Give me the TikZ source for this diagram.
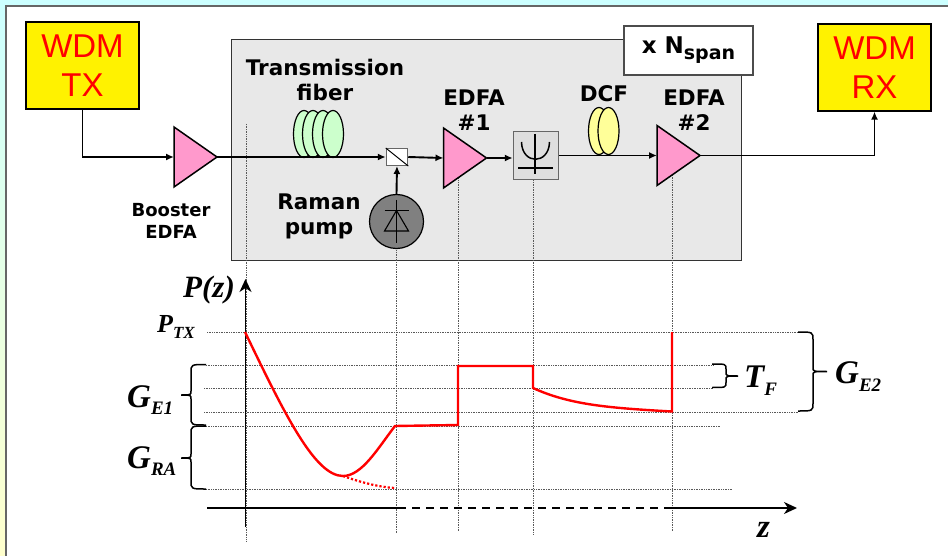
\documentclass[tikz,border=0pt]{standalone}
\usepackage{fontspec}
\setmainfont{Liberation Sans}
\newfontfamily\labelfont{DejaVu Sans}
\newfontfamily\plotfont{Liberation Serif}
\usetikzlibrary{arrows.meta,shapes.geometric}

\definecolor{bgcyan}{HTML}{CCFFFF}
\definecolor{bgyellow}{HTML}{FFFFCC}
\definecolor{edfapink}{HTML}{FF99CC}
\definecolor{fibergreen}{HTML}{CCFFCC}
\definecolor{dcfyellow}{HTML}{FFFF99}
\definecolor{spangray}{HTML}{E8E8E8}

\newcommand{\withsub}[3]{#2\raisebox{-#1pt}{\fontsize{19}{19}\selectfont #3}}

\tikzset{
  terminal/.style = {draw=black, fill=yellow, line width=1.2pt, minimum width=113pt,
                     minimum height=87pt, inner sep=0pt, align=center, text=red,
                     font=\fontsize{33}{39}\selectfont},
  edfa/.style     = {draw=black, fill=edfapink, line width=1.5pt, isosceles triangle,
                     isosceles triangle stretches, minimum width=60pt, minimum height=43pt,
                     inner sep=0pt, outer sep=0pt, anchor=lower side},
  coil/.style     = {draw=black, line width=1.2pt, ellipse, minimum width=21pt,
                     minimum height=47pt, inner sep=0pt},
  tag/.style      = {inner sep=0pt, align=center, font=\labelfont\bfseries\fontsize{21.5}{25}\selectfont},
  link/.style     = {line width=1.9pt, -{Latex[length=8pt,width=7pt]}},
  guide/.style    = {densely dotted, line width=.7pt, black!65},
  powerline/.style= {red, line width=2.4pt},
  axis/.style     = {line width=1.8pt},
  axistip/.style  = {line width=1.8pt, -{Stealth[length=13pt,width=12pt,inset=4pt]}},
  bracket/.style  = {line width=1.5pt},
  plotlabel/.style= {inner sep=0pt, anchor=base west,
                     font=\plotfont\bfseries\itshape\fontsize{33}{34}\selectfont},
}

\begin{document}
\begin{tikzpicture}[x=1pt,y=-1pt]
\useasboundingbox (0,0) rectangle (948,556);
\shade[top color=bgcyan, bottom color=bgyellow] (0,0) rectangle (948,556);
\fill[white] (6,6) rectangle (948,556);
\draw[black!60, line width=1.4pt] (6,556) -- (6,6) -- (948,6);

% repeated span
\draw[fill=spangray, draw=black!80, line width=.9pt] (231.5,39) rectangle (741,260);
\node[draw=black!70, fill=white, line width=1.2pt, minimum width=129pt, minimum height=49pt,
      inner sep=0pt, font=\labelfont\bfseries\fontsize{23}{26}\selectfont] (nspan) at (688.5,50.5)
      {x N\raisebox{-6pt}{\fontsize{19}{20}\selectfont span}};

% dotted guides
\foreach \gx/\gya/\gyb in {246/124/541, 396/240/533, 458/170/531, 533.5/170/535, 672/170/532}
  \draw[guide] (\gx,\gya) -- (\gx,\gyb);
\foreach \gy/\gxa/\gxb in {332/207/798, 365/206/713, 388/204/713, 412/204/798, 426/206/720, 489/206/732}
  \draw[guide] (\gxa,\gy) -- (\gxb,\gy);

% line elements
\node[terminal] (tx) at (82.5,65.5) {WDM\\TX};
\node[terminal] (rx) at (874.5,67.5) {WDM\\RX};
\node[edfa] (booster) at (174,157) {};
\node[edfa] (edfaA) at (443.5,158) {};
\node[edfa] (edfaB) at (657,155.5) {};
\foreach \cx/\cname in {304/coilA, 313/coilB, 323/coilC, 333/coilD}
  \node[coil, fill=fibergreen] (\cname) at (\cx,134) {};
\foreach \cx/\cname in {599/dcfA, 608.5/dcfB}
  \node[coil, fill=dcfyellow] (\cname) at (\cx,131) {};
\node[draw=black!60, fill=white, line width=1pt, minimum width=21.5pt, minimum height=17pt,
      inner sep=0pt] (coupler) at (397,157) {};
\draw[line width=1pt] (coupler.north west) -- (coupler.south east);
\node[draw=black!60, fill=black!13, line width=1pt, minimum width=45.5pt, minimum height=48pt,
      inner sep=0pt] (filter) at (536,156) {};
\draw[line width=1.5pt] (521.5,142) .. controls (522,165) and (549,165) .. (549.5,142);
\draw[line width=1.5pt] (535,134) -- (535,174);
\draw[line width=1.5pt] (518,168) -- (553,168);
\node[circle, draw=black, fill=black!50, line width=1.2pt, minimum size=54pt, inner sep=0pt]
      (pump) at (396.5,221.5) {};
\draw[line width=1.1pt] (396.5,200) -- (396.5,243);
\draw[line width=1.1pt] (384.5,210.5) -- (408.5,210.5);
\draw[line width=1.1pt] (396.5,210.5) -- (384.5,231) -- (408.5,231) -- cycle;

% connections
\draw[link] (tx.south) |- (booster.lower side);
\draw[link] (booster.apex) -- (coupler.west);
\draw[link] (coupler.east) -- (edfaA.lower side);
\draw[link] (pump.north) -- (coupler.south);
\draw[link] (edfaA.apex) -- (edfaA.apex -| filter.west);
\draw[link] (filter.east |- edfaB.lower side) -- (edfaB.lower side);
\draw[link] (edfaB.apex) -| (rx.south);

% tags
\node[tag] (fibertag) at (325,80) {Transmission\\fiber};
\node[tag, font=\labelfont\bfseries\fontsize{18}{22}\selectfont] (boostertag) at (171,221) {Booster\\EDFA};
\node[tag] (ramantag) at (319,216) {Raman\\pump};
\node[tag] (edfaAtag) at (474,110) {EDFA\\\#1};
\node[tag, anchor=base] (dcftag) at (604,102) {DCF};
\node[tag] (edfaBtag) at (694,110) {EDFA\\\#2};

% axes
\coordinate (zstart) at (207,508);
\coordinate (zdashA) at (398,508);
\coordinate (zdashB) at (672,508);
\coordinate (zend) at (797,508);
\coordinate (pstart) at (245.5,527);
\coordinate (pend) at (245.5,279);
\draw[axistip] (pstart) -- (pend);
\draw[axis] (zstart) -- (zdashA);
\draw[axis, dash pattern=on 8pt off 6pt] (zdashA) -- (zdashB);
\draw[axistip] (zdashB) -- (zend);

% power profile
\draw[powerline] (245,332) .. controls (285,415) and (315,476) .. (343,476)
      .. controls (362,476) and (378,448) .. (395,426) -- (458,425) -- (458,366) -- (533,366) -- (533,388)
      .. controls (570,405) and (610,408) .. (672,411.5) -- (672,332);
\draw[red, line width=2.2pt, dotted] (343,476) .. controls (360,482) and (378,487) .. (395,488);

% brackets
\foreach \xa/\xb/\xc/\ya/\ym/\yb/\rad in {206/191/181/364.5/395/425/8, 206/191/181/426/458/489/8,
                                          712/726/738/364/376/387.5/5, 798/813/827/332/371.5/411/8}
  \draw[bracket] (\xa,\ya) .. controls (\xb,\ya) .. (\xb,\ya+\rad) -- (\xb,\ym-4)
        .. controls (\xb,\ym) .. (\xc,\ym) .. controls (\xb,\ym) .. (\xb,\ym+4)
        -- (\xb,\yb-\rad) .. controls (\xb,\yb) .. (\xa,\yb);

% plot labels
\node[plotlabel, font=\plotfont\bfseries\itshape\fontsize{31}{32}\selectfont] (pz) at (183,297) {P(z)};
\node[plotlabel, font=\plotfont\bfseries\itshape\fontsize{26}{27}\selectfont] (ptx) at (157,332)
      {P\raisebox{-6pt}{\fontsize{17}{17}\selectfont TX}};
\node[plotlabel] (gea) at (127,407) {\withsub{7}{G}{E1}};
\node[plotlabel] (gra) at (127,468) {\withsub{7}{G}{RA}};
\node[plotlabel] (tf) at (744,387) {\withsub{8}{T}{F}};
\node[plotlabel] (geb) at (835,383) {\withsub{8}{G}{E2}};
\node[plotlabel] (zlab) at (757,537) {z};
\end{tikzpicture}
\end{document}
